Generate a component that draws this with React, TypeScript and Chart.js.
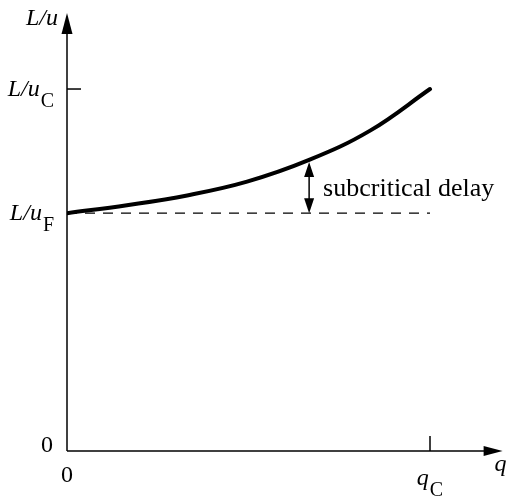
import React, { useEffect, useRef } from "react";
import { Chart, registerables } from "chart.js";

Chart.register(...registerables);

// Data (units: q relative to qC, L/u relative to L/uC)
const qValues = [0, 0.165, 0.331, 0.496, 0.667, 0.835, 1.0];
const delayValues = [0.657, 0.679, 0.706, 0.744, 0.804, 0.885, 1.0];
const freeFlowValue = 0.657; // L/uF
const criticalValue = 1.0; // L/uC
const criticalQ = 1.0; // qC
const annotationQ = 0.667;
const annotationText = "subcritical delay";
const yAxisTitle = "L/u";
const xAxisTitle = "q";
const yTickLabels = [
  { value: 0, main: "0", sub: "" },
  { value: freeFlowValue, main: "L/u", sub: "F" },
  { value: criticalValue, main: "L/u", sub: "C" },
];
const xTickLabels = [
  { value: 0, main: "0", sub: "" },
  { value: criticalQ, main: "q", sub: "C" },
];

const SERIF = "'Liberation Serif', 'Times New Roman', serif";

function curveAt(q: number): number {
  for (let i = 0; i < qValues.length - 1; i++) {
    if (q >= qValues[i] && q <= qValues[i + 1]) {
      const t = (q - qValues[i]) / (qValues[i + 1] - qValues[i]);
      return delayValues[i] + t * (delayValues[i + 1] - delayValues[i]);
    }
  }
  return delayValues[delayValues.length - 1];
}

function drawLabel(
  ctx: CanvasRenderingContext2D,
  main: string,
  sub: string,
  x: number,
  baseline: number,
  align: "right" | "center" | "left",
  italicMain: boolean
) {
  const mainFont = `${italicMain ? "italic " : ""}24px ${SERIF}`;
  const subFont = `20px ${SERIF}`;
  ctx.font = mainFont;
  const wm = ctx.measureText(main).width;
  ctx.font = subFont;
  const ws = sub ? ctx.measureText(sub).width + 1 : 0;
  const total = wm + ws;
  let left = x;
  if (align === "right") left = x - total;
  else if (align === "center") left = x - total / 2;
  ctx.textAlign = "left";
  ctx.textBaseline = "alphabetic";
  ctx.font = mainFont;
  ctx.fillText(main, left, baseline);
  if (sub) {
    ctx.font = subFont;
    ctx.fillText(sub, left + wm + 1, baseline + 11);
  }
}

const axesPlugin = {
  id: "customAxes",
  afterDatasetsDraw(chart: any) {
    const ctx: CanvasRenderingContext2D = chart.ctx;
    const xs = chart.scales.x;
    const ys = chart.scales.y;
    const area = chart.chartArea;
    const x0 = xs.getPixelForValue(0);
    const y0 = ys.getPixelForValue(0);
    ctx.save();
    ctx.strokeStyle = "#000";
    ctx.fillStyle = "#000";
    ctx.lineWidth = 1.5;
    // y axis
    ctx.beginPath();
    ctx.moveTo(x0, y0);
    ctx.lineTo(x0, area.top + 16);
    ctx.stroke();
    ctx.beginPath();
    ctx.moveTo(x0, area.top);
    ctx.lineTo(x0 - 5.5, area.top + 21);
    ctx.lineTo(x0 + 5.5, area.top + 21);
    ctx.closePath();
    ctx.fill();
    // x axis
    ctx.beginPath();
    ctx.moveTo(x0, y0);
    ctx.lineTo(area.right - 14, y0);
    ctx.stroke();
    ctx.beginPath();
    ctx.moveTo(area.right, y0);
    ctx.lineTo(area.right - 19, y0 - 5);
    ctx.lineTo(area.right - 19, y0 + 5);
    ctx.closePath();
    ctx.fill();
    // ticks
    const yC = ys.getPixelForValue(criticalValue);
    ctx.beginPath();
    ctx.moveTo(x0, yC);
    ctx.lineTo(x0 + 14, yC);
    ctx.stroke();
    const xC = xs.getPixelForValue(criticalQ);
    ctx.beginPath();
    ctx.moveTo(xC, y0);
    ctx.lineTo(xC, y0 - 15);
    ctx.stroke();

    // axis titles
    drawLabel(ctx, yAxisTitle, "", x0 - 9, area.top + 12, "right", true);
    drawLabel(ctx, xAxisTitle, "", area.right - 8, y0 + 20, "left", true);

    // y tick labels
    for (const t of yTickLabels) {
      const py = ys.getPixelForValue(t.value);
      if (t.sub) drawLabel(ctx, t.main, t.sub, x0 - 13, py + 7, "right", true);
      else drawLabel(ctx, t.main, "", x0 - 14, py + 1, "right", false);
    }
    // x tick labels
    for (const t of xTickLabels) {
      const px = xs.getPixelForValue(t.value);
      if (t.sub) drawLabel(ctx, t.main, t.sub, px, y0 + 34, "center", true);
      else drawLabel(ctx, t.main, "", px, y0 + 31, "center", false);
    }

    // double arrow annotation
    const ax = xs.getPixelForValue(annotationQ);
    const aTop = ys.getPixelForValue(curveAt(annotationQ)) + 2;
    const aBot = ys.getPixelForValue(freeFlowValue);
    ctx.lineWidth = 1.5;
    ctx.beginPath();
    ctx.moveTo(ax, aTop + 10);
    ctx.lineTo(ax, aBot - 10);
    ctx.stroke();
    ctx.beginPath();
    ctx.moveTo(ax, aTop);
    ctx.lineTo(ax - 5, aTop + 15);
    ctx.lineTo(ax + 5, aTop + 15);
    ctx.closePath();
    ctx.fill();
    ctx.beginPath();
    ctx.moveTo(ax, aBot);
    ctx.lineTo(ax - 5, aBot - 15);
    ctx.lineTo(ax + 5, aBot - 15);
    ctx.closePath();
    ctx.fill();
    ctx.font = `26px ${SERIF}`;
    ctx.textAlign = "left";
    ctx.textBaseline = "alphabetic";
    ctx.fillText(annotationText, ax + 14, (aTop + aBot) / 2 + 8);
    ctx.restore();
  },
};

export default function App() {
  const canvasRef = useRef<HTMLCanvasElement | null>(null);
  useEffect(() => {
    if (!canvasRef.current) return;
    const chart = new Chart(canvasRef.current, {
      type: "line",
      data: {
        datasets: [
          {
            data: qValues.map((q, i) => ({ x: q, y: delayValues[i] })),
            borderColor: "#000",
            borderWidth: 4,
            pointRadius: 0,
            tension: 0.4,
            borderCapStyle: "round",
            fill: false,
          },
          {
            data: [
              { x: 0, y: freeFlowValue },
              { x: criticalQ, y: freeFlowValue },
            ],
            borderColor: "#000",
            borderWidth: 1.3,
            borderDash: [10, 8],
            pointRadius: 0,
            fill: false,
          },
        ],
      },
      options: {
        responsive: false,
        animation: false,
        layout: { padding: { left: 67, right: 4.4, top: 13, bottom: 46 } },
        plugins: { legend: { display: false }, tooltip: { enabled: false } },
        scales: {
          x: { type: "linear", min: 0, max: 1.2, display: false },
          y: { type: "linear", min: 0, max: 1.21, display: false },
        },
      },
      plugins: [axesPlugin],
    } as any);
    return () => chart.destroy();
  }, []);
  return (
    <div style={{ position: "fixed", left: 0, top: 0, width: 507, height: 497, background: "#fff" }}>
      <canvas ref={canvasRef} width={507} height={497} />
    </div>
  );
}
